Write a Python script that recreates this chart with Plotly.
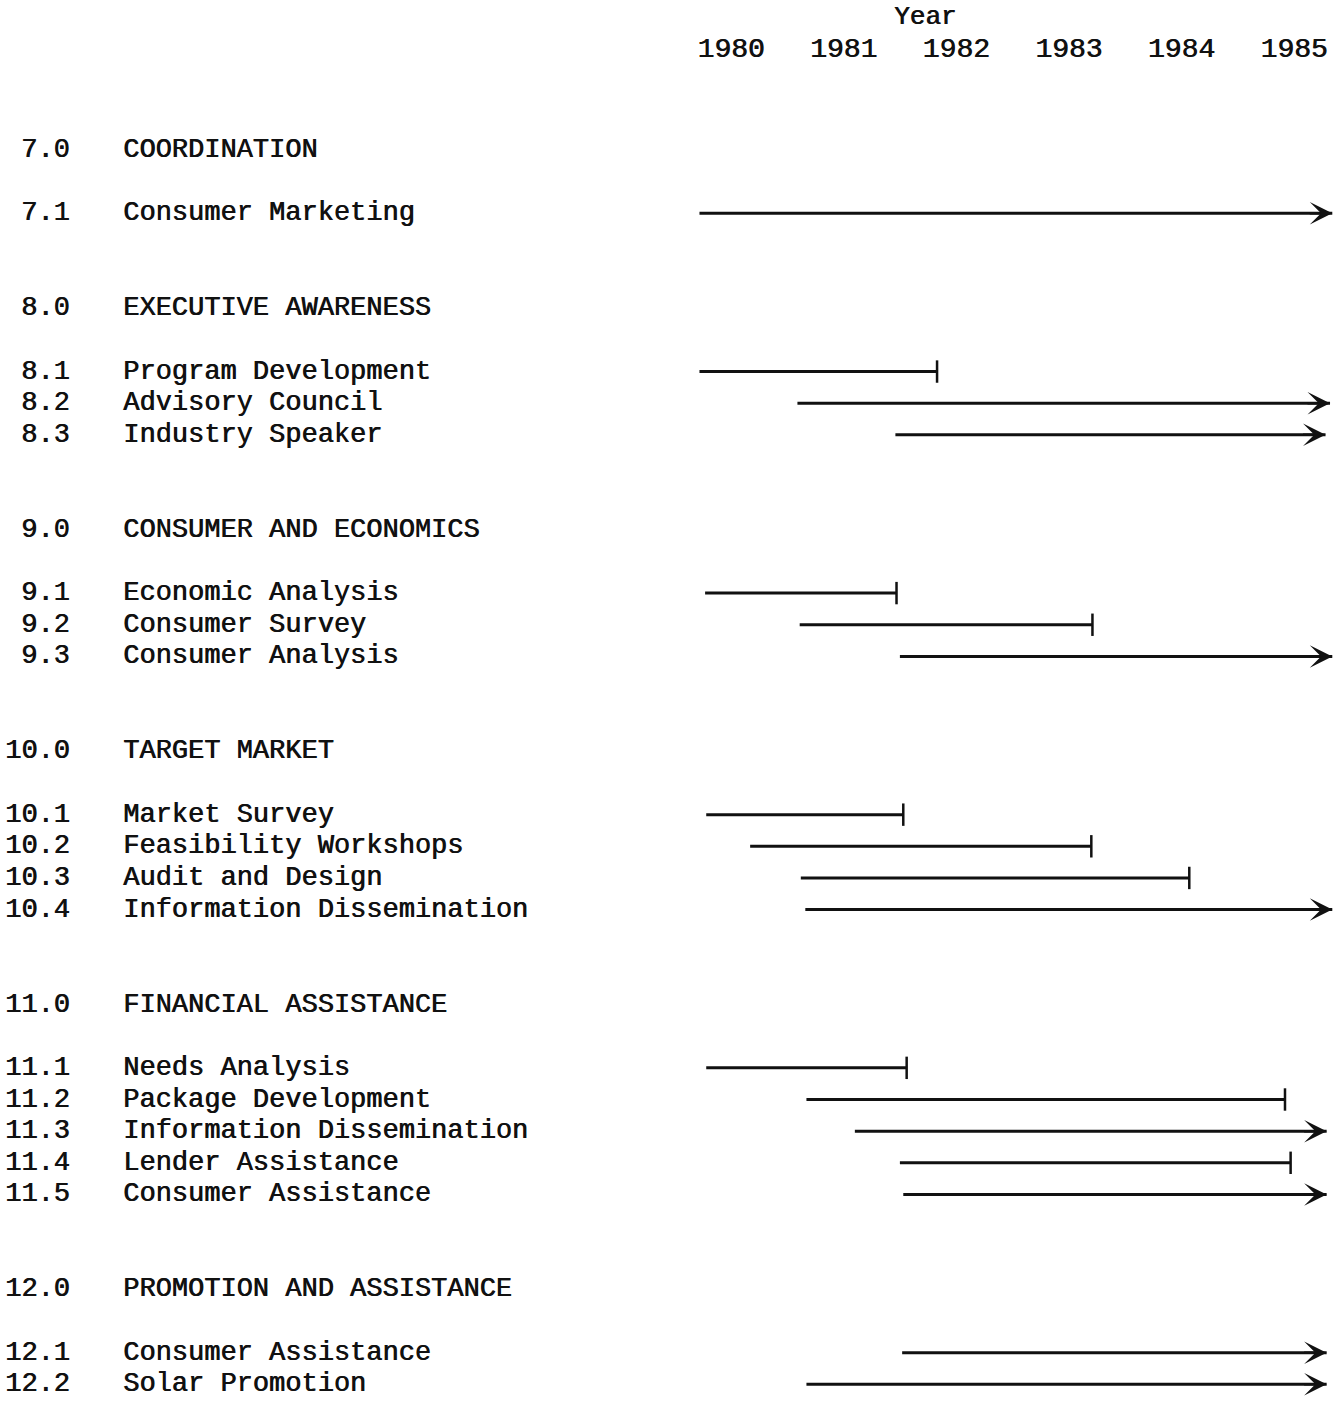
import plotly.graph_objects as go

# ---------------- data ----------------
section_codes = ["7.0", "8.0", "9.0", "10.0", "11.0", "12.0"]
section_names = ["COORDINATION", "EXECUTIVE AWARENESS", "CONSUMER AND ECONOMICS",
                 "TARGET MARKET", "FINANCIAL ASSISTANCE", "PROMOTION AND ASSISTANCE"]
section_sizes = [1, 3, 3, 4, 5, 2]

task_codes = ["7.1",
              "8.1", "8.2", "8.3",
              "9.1", "9.2", "9.3",
              "10.1", "10.2", "10.3", "10.4",
              "11.1", "11.2", "11.3", "11.4", "11.5",
              "12.1", "12.2"]
task_names = ["Consumer Marketing",
              "Program Development", "Advisory Council", "Industry Speaker",
              "Economic Analysis", "Consumer Survey", "Consumer Analysis",
              "Market Survey", "Feasibility Workshops", "Audit and Design",
              "Information Dissemination",
              "Needs Analysis", "Package Development", "Information Dissemination",
              "Lender Assistance", "Consumer Assistance",
              "Consumer Assistance", "Solar Promotion"]
task_start = [1979.72,
              1979.72, 1980.59, 1981.46,
              1979.77, 1980.61, 1981.50,
              1979.78, 1980.17, 1980.62, 1980.66,
              1979.78, 1980.67, 1981.10, 1981.50, 1981.53,
              1981.52, 1980.67]
task_end = [1985.34,
            1981.83, 1985.32, 1985.28,
            1981.47, 1983.21, 1985.34,
            1981.53, 1983.20, 1984.07, 1985.34,
            1981.56, 1984.92, 1985.29, 1984.97, 1985.29,
            1985.29, 1985.29]
task_end_type = ["arrow",
                 "bar", "arrow", "arrow",
                 "bar", "bar", "arrow",
                 "bar", "bar", "bar", "arrow",
                 "bar", "bar", "arrow", "bar", "arrow",
                 "arrow", "arrow"]
year_ticks = [1980, 1981, 1982, 1983, 1984, 1985]
axis_title = "Year"

# ---------------- layout helpers ----------------
W, H = 1335, 1402
TOP = 64
FONT = "Liberation Mono, Courier New, monospace"
INK = "#111111"
SHADOW = "0.7px 0px 0px #111111"

# row index for headings and tasks (heading, blank, tasks..., 2 blanks)
section_rows, task_rows = [], []
r = 0
for n in section_sizes:
    section_rows.append(r)
    r += 2
    for _ in range(n):
        task_rows.append(r)
        r += 1
    r += 2

px_per_row = 31.65
row0_px = 150
y_top = (TOP - row0_px) / px_per_row
y_bot = (H - row0_px) / px_per_row

px_per_year = 112.6
x0_px = 731
x_lo = 1980 - x0_px / px_per_year
x_hi = 1980 + (W - x0_px) / px_per_year

fig = go.Figure()

# task lines
lx, ly = [], []
for s, e, row in zip(task_start, task_end, task_rows):
    lx += [s, e, None]
    ly += [row, row, None]
fig.add_trace(go.Scatter(x=lx, y=ly, mode="lines",
                         line=dict(color=INK, width=3), hoverinfo="skip"))

# bar ends
bx = [e for e, t in zip(task_end, task_end_type) if t == "bar"]
by = [row for row, t in zip(task_rows, task_end_type) if t == "bar"]
fig.add_trace(go.Scatter(x=bx, y=by, mode="markers",
                         marker=dict(symbol="line-ns", size=16,
                                     line=dict(color=INK, width=2.5)),
                         hoverinfo="skip"))

annotations = []
# arrow heads
for e, row, t in zip(task_end, task_rows, task_end_type):
    if t == "arrow":
        annotations.append(dict(x=e, y=row, xref="x", yref="y",
                                ax=-24, ay=0, axref="pixel", ayref="pixel",
                                showarrow=True, arrowhead=3, arrowsize=1.5,
                                arrowwidth=2.5, arrowcolor=INK, text=""))

code_x = 72 / W
name_x = 121 / W
text_font = dict(family=FONT, size=27, color=INK, shadow=SHADOW)
for c, n, row in zip(section_codes, section_names, section_rows):
    annotations.append(dict(x=code_x, y=row, xref="paper", yref="y", text=c,
                            xanchor="right", yanchor="middle", showarrow=False,
                            font=text_font))
    annotations.append(dict(x=name_x, y=row, xref="paper", yref="y", text=n,
                            xanchor="left", yanchor="middle", showarrow=False,
                            font=text_font))
for c, n, row in zip(task_codes, task_names, task_rows):
    annotations.append(dict(x=code_x, y=row, xref="paper", yref="y", text=c,
                            xanchor="right", yanchor="middle", showarrow=False,
                            font=text_font))
    annotations.append(dict(x=name_x, y=row, xref="paper", yref="y", text=n,
                            xanchor="left", yanchor="middle", showarrow=False,
                            font=text_font))

# axis title "Year"
annotations.append(dict(x=1981.72, y=1 + (TOP - 17) / (H - TOP), xref="x", yref="paper",
                        text=axis_title, showarrow=False, xanchor="center",
                        yanchor="middle",
                        font=dict(family=FONT, size=26, color=INK, shadow=SHADOW)))

fig.update_layout(
    width=W, height=H,
    margin=dict(l=0, r=0, t=TOP, b=0),
    paper_bgcolor="white", plot_bgcolor="white",
    showlegend=False,
    annotations=annotations,
    xaxis=dict(range=[x_lo, x_hi], side="top", tickvals=year_ticks,
               ticktext=[str(v) for v in year_ticks], showgrid=False,
               zeroline=False, showline=False, ticks="",
               tickfont=dict(family=FONT, size=28, color=INK, shadow=SHADOW)),
    yaxis=dict(range=[y_bot, y_top], showgrid=False, zeroline=False,
               showline=False, showticklabels=False, ticks=""),
)

fig.write_html("out.html", config={"displayModeBar": False},
               post_script="document.body.style.margin='0';document.body.style.overflow='hidden';")
